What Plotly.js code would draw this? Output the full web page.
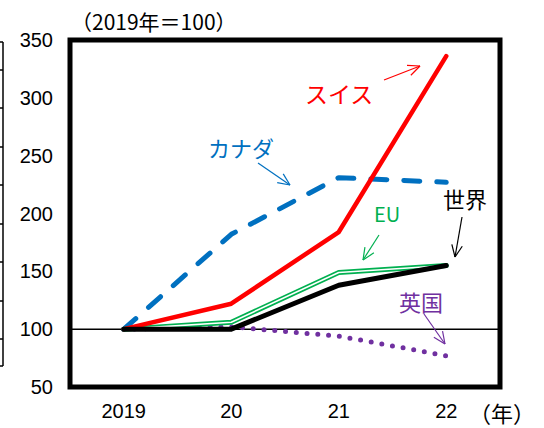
<!DOCTYPE html>
<html>
<head>
<meta charset="utf-8">
<script src="https://cdn.plot.ly/plotly-3.0.1.min.js"></script>
<style>html,body{margin:0;padding:0;background:#fff;}#chart{width:544px;height:428px;}
.scatterlayer .js-line{stroke-linecap:round;stroke-linejoin:round;}</style>
</head>
<body>
<div id="chart"></div>
<script>
// Data (index, 2019 = 100)
const years = ['2019', '20', '21', '22'];
const swiss = [100, 122, 184, 336];
const canada = [100, 182, 231, 227];
const eu = [100, 106, 149, 155];
const world = [100, 100, 138, 155];
const uk = [100, 102, 94, 77];
const yTicks = [50, 100, 150, 200, 250, 300, 350];

// layout geometry (pixels)
const L = 70, T = 40, W = 430, H = 347, B = T + H;
const px = v => (v - L) / W;
const py = v => (B - v) / H;

const jp = '"Noto Sans CJK JP", sans-serif';
const num = '"Liberation Sans", Arial, sans-serif';

const traces = [
  {x: years, y: uk, mode: 'lines', line: {color: '#7030A0', width: 5, dash: '0px,10.8px'}},
  {x: years, y: canada, mode: 'lines', line: {color: '#0070C0', width: 5, dash: '16px,17px'}},
  {x: years, y: eu, mode: 'lines', line: {color: '#00B050', width: 5}},
  {x: years, y: eu, mode: 'lines', line: {color: '#ffffff', width: 1.6}},
  {x: years, y: swiss, mode: 'lines', line: {color: '#FF0000', width: 4.5}},
  {x: years, y: world, mode: 'lines', line: {color: '#000000', width: 5}}
];

const shapes = [];
// baseline at 100
shapes.push({type: 'line', xref: 'paper', yref: 'y', x0: 0, x1: 1, y0: 100, y1: 100,
  line: {color: '#000', width: 1.5}, layer: 'below'});
// frame
shapes.push({type: 'rect', xref: 'paper', yref: 'paper', x0: 0, x1: 1, y0: 0, y1: 1,
  line: {color: '#000', width: 5}, layer: 'above'});

function arrow(x0, y0, x1, y1, color) {
  shapes.push({type: 'line', xref: 'paper', yref: 'paper', x0: px(x0), y0: py(y0), x1: px(x1), y1: py(y1),
    line: {color: color, width: 1.2}});
  const ang = Math.atan2(y1 - y0, x1 - x0);
  const len = 13, spread = 0.42;
  [ang + Math.PI - spread, ang + Math.PI + spread].forEach(a => {
    shapes.push({type: 'line', xref: 'paper', yref: 'paper',
      x0: px(x1), y0: py(y1), x1: px(x1 + len * Math.cos(a)), y1: py(y1 + len * Math.sin(a)),
      line: {color: color, width: 1.2}});
  });
}
arrow(384, 80, 420, 66, '#FF0000');
arrow(258, 163, 290, 185, '#0070C0');
arrow(379, 235, 363, 260, '#00B050');
arrow(462, 217, 455, 257, '#000000');
arrow(424, 314, 445, 344, '#7030A0');

// stray left axis fragment (edge of neighbouring chart)
shapes.push({type: 'line', xref: 'paper', yref: 'paper', x0: px(3), x1: px(3), y0: py(42), y1: py(366),
  line: {color: '#000', width: 1.5}});
[42, 70, 108, 147, 185, 224, 262, 301, 339, 366].forEach(t => {
  shapes.push({type: 'line', xref: 'paper', yref: 'paper', x0: px(0), x1: px(3), y0: py(t), y1: py(t),
    line: {color: '#000', width: 1.5}});
});

function label(text, x, y, color, size, family) {
  return {text: text, xref: 'paper', yref: 'paper', x: px(x), y: py(y), xanchor: 'center', yanchor: 'middle',
    showarrow: false, font: {color: color, size: size, family: family || jp}};
}
const annotations = [
  label('（2019年＝100）', 154, 21, '#000', 21),
  label('（年）', 502, 412, '#000', 22),
  label('スイス', 339, 93, '#FF0000', 23),
  label('カナダ', 241, 147, '#0070C0', 22),
  label('EU', 387, 213, '#00B050', 20),
  label('世界', 465, 198, '#000', 22),
  label('英国', 421, 301, '#7030A0', 22)
];

const layout = {
  width: 544, height: 428,
  margin: {l: L, r: 544 - L - W, t: T, b: 428 - B, pad: 0},
  paper_bgcolor: '#fff', plot_bgcolor: '#fff',
  showlegend: false,
  xaxis: {type: 'category', range: [-0.5, 3.5], showgrid: false, zeroline: false, showline: false,
    ticks: '', ticklabelstandoff: 10, tickfont: {family: num, size: 20, color: '#000'}, fixedrange: true},
  yaxis: {range: [50, 350], tickvals: yTicks, showgrid: false, zeroline: false, showline: false,
    ticks: '', ticklabelstandoff: 16, tickfont: {family: num, size: 20, color: '#000'}, fixedrange: true},
  shapes: shapes,
  annotations: annotations
};

Plotly.newPlot('chart', traces, layout, {staticPlot: true, displayModeBar: false});
</script>
</body>
</html>
